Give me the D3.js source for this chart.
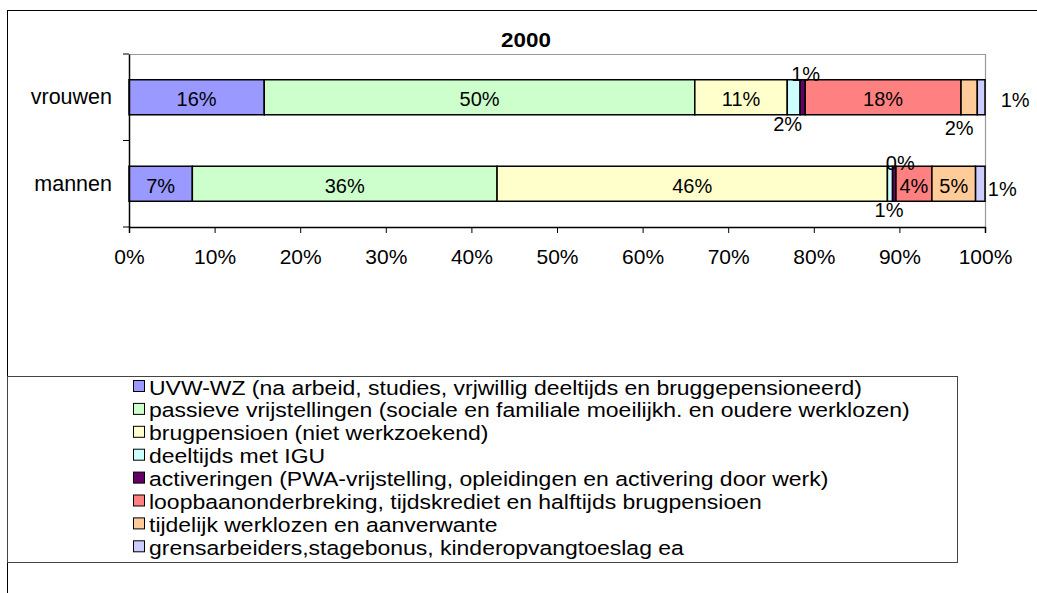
<!DOCTYPE html>
<html>
<head>
<meta charset="utf-8">
<script src="https://cdn.jsdelivr.net/npm/d3@7"></script>
<style>
  body { margin: 0; background: #fff; }
  text { font-family: Arial, "Liberation Sans", sans-serif; fill: #000; }
</style>
</head>
<body>
<div id="container"></div>
<script>
// data
const title = "2000";
const categories = ["vrouwen", "mannen"];
const seriesNames = [
  "UVW-WZ (na arbeid, studies, vrjwillig deeltijds en bruggepensioneerd)",
  "passieve vrijstellingen (sociale en familiale moeilijkh. en oudere werklozen)",
  "brugpensioen (niet werkzoekend)",
  "deeltijds met IGU",
  "activeringen (PWA-vrijstelling, opleidingen en activering door werk)",
  "loopbaanonderbreking, tijdskrediet en halftijds brugpensioen",
  "tijdelijk werklozen en aanverwante",
  "grensarbeiders,stagebonus, kinderopvangtoeslag ea"
];
const vrouwen = [15.8, 50.3, 10.8, 1.5, 0.6, 18.2, 1.9, 0.9];
const mannen  = [7.4, 35.6, 45.6, 0.6, 0.4, 4.2, 5.1, 1.1];
const xTicks = [0, 10, 20, 30, 40, 50, 60, 70, 80, 90, 100];

const colors = ["#9999ff", "#ccffcc", "#ffffcc", "#ccffff", "#660066", "#ff8080", "#ffcc99", "#ccccff"];

// hand-moved data labels (Excel style), offsets from the segment centre
const labelNudge = {
  "vrouwen-3": [-6, 25], "vrouwen-4": [3, -25], "vrouwen-6": [-10, 29], "vrouwen-7": [34, 1],
  "mannen-3": [-1, 24], "mannen-4": [6, -23], "mannen-7": [22, 3]
};

const w = 1037, h = 593;
const margin = { left: 129, right: 52, top: 54, bottom: 366 };

const svg = d3.select("#container").append("svg")
  .attr("width", w).attr("height", h);

// stretch a text a little wider, the original export looks widened
function widen(sel, k) {
  sel.each(function () {
    const len = this.getComputedTextLength();
    d3.select(this).attr("textLength", len * k).attr("lengthAdjust", "spacingAndGlyphs");
  });
}

// outer chart border
svg.append("rect")
  .attr("x", 7.5).attr("y", 10.5)
  .attr("width", w + 20).attr("height", h + 20)
  .attr("fill", "none").attr("stroke", "#000").attr("stroke-width", 1);

const rows = categories.map((c, i) => {
  const vals = i === 0 ? vrouwen : mannen;
  const r = { cat: c };
  seriesNames.forEach((s, j) => r[s] = vals[j]);
  return r;
});

const stacked = d3.stack().keys(seriesNames)(rows);

const x = d3.scaleLinear().domain([0, 100]).range([margin.left, w - margin.right]);
const y = d3.scaleBand().domain(categories)
  .range([margin.top, h - margin.bottom])
  .paddingInner(0.595).paddingOuter(0.2975);

// plot area frame (grey top/right)
svg.append("path")
  .attr("d", `M${x(0)},${y.range()[0] + 0.5}H${x(100) + 0.5}V${y.range()[1]}`)
  .attr("fill", "none").attr("stroke", "#999").attr("stroke-width", 1.2);

// title
svg.append("text")
  .attr("x", 526).attr("y", 47)
  .attr("text-anchor", "middle")
  .style("font-weight", "bold").style("font-size", "20px")
  .text(title)
  .call(widen, 1.12);

// bars
const layer = svg.selectAll("g.layer").data(stacked).enter().append("g")
  .attr("class", "layer")
  .attr("fill", (d, i) => colors[i]);

layer.selectAll("rect").data(d => d).enter().append("rect")
  .attr("x", d => x(d[0]))
  .attr("y", d => y(d.data.cat))
  .attr("width", d => x(d[1]) - x(d[0]))
  .attr("height", y.bandwidth())
  .attr("stroke", "#000").attr("stroke-width", 1.5);

// data labels
stacked.forEach((s, i) => {
  s.forEach(d => {
    const key = d.data.cat + "-" + i;
    const nudge = labelNudge[key] || [0, 0];
    svg.append("text")
      .attr("x", (x(d[0]) + x(d[1])) / 2 + nudge[0])
      .attr("y", y(d.data.cat) + y.bandwidth() / 2 + 2 + nudge[1])
      .attr("text-anchor", "middle")
      .attr("dominant-baseline", "central")
      .style("font-size", "20px")
      .text(Math.round(d[1] - d[0]) + "%");
  });
});

// x axis
const xAxis = svg.append("g")
  .attr("transform", `translate(0,${y.range()[1]})`)
  .call(d3.axisBottom(x).tickValues(xTicks).tickSize(6).tickPadding(16).tickFormat(d => d + "%"));
xAxis.select(".domain").attr("stroke", "#000").attr("stroke-width", 1.5);
xAxis.selectAll(".tick line").attr("stroke", "#000");
xAxis.selectAll("text").style("font-size", "21px").attr("dy", "0.71em");

// y axis: labels at band centres, ticks at band edges
const yAxis = svg.append("g")
  .attr("transform", `translate(${x(0)},0)`)
  .call(d3.axisLeft(y).tickSize(0).tickPadding(17));
yAxis.select(".domain").attr("stroke", "#000").attr("stroke-width", 1.5);
yAxis.selectAll("text").style("font-size", "21.5px");
const edges = categories.map(c => y(c) - y.step() * y.paddingInner() / 2).concat([y.range()[1]]);
svg.selectAll("line.ytick").data(edges).enter().append("line")
  .attr("class", "ytick")
  .attr("x1", x(0) - 6).attr("x2", x(0))
  .attr("y1", d => d).attr("y2", d => d)
  .attr("stroke", "#000");

// legend
const legend = svg.append("g");
legend.append("rect")
  .attr("x", 7.5).attr("y", 376.5).attr("width", 950).attr("height", 186)
  .attr("fill", "none").attr("stroke", "#444").attr("stroke-width", 1);
const item = legend.selectAll("g.item").data(seriesNames).enter().append("g")
  .attr("class", "item")
  .attr("transform", (d, i) => `translate(133,${380 + i * 22.9})`);
item.append("rect")
  .attr("x", 0.5).attr("y", 0.5).attr("width", 11).attr("height", 11)
  .attr("fill", (d, i) => colors[i]).attr("stroke", "#000").attr("stroke-width", 1);
item.append("text")
  .attr("x", 16).attr("y", 7)
  .attr("dominant-baseline", "central")
  .style("font-size", "20.5px")
  .text(d => d)
  .call(widen, 1.12);
</script>
</body>
</html>
